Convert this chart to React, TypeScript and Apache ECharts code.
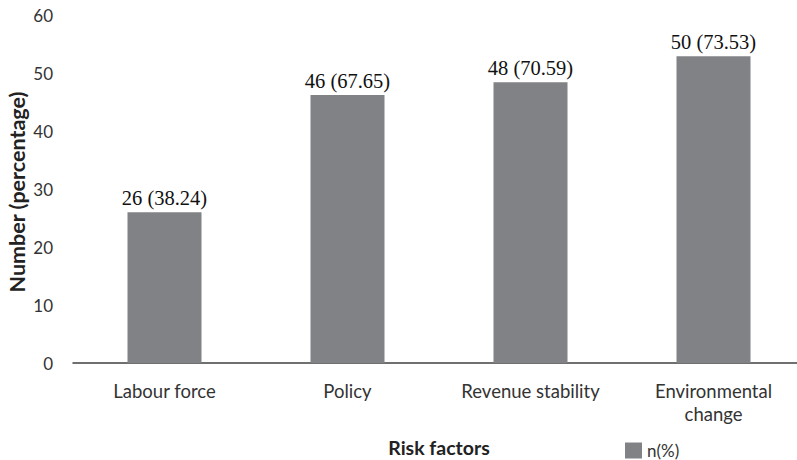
import React, { useEffect, useRef } from "react";
import * as echarts from "echarts";

const categories = ["Labour force", "Policy", "Revenue stability", "Environmental\nchange"];
const barValues = [26, 46.2, 48.4, 52.9];
const barLabels = ["26 (38.24)", "46 (67.65)", "48 (70.59)", "50 (73.53)"];
const yTicks = [0, 10, 20, 30, 40, 50, 60];
const seriesName = "n(%)";
const yTitle = "Number (percentage)";

export default function App() {
  const ref = useRef<HTMLDivElement>(null);
  useEffect(() => {
    const chart = echarts.init(ref.current!, null, { renderer: "svg" });
    chart.setOption({
      animation: false,
      backgroundColor: "#ffffff",
      grid: {
        left: 73,
        top: 15,
        width: 732,
        height: 348,
        containLabel: false,
        outerBoundsMode: "none",
      },
      legend: {
        data: [seriesName],
        left: 625,
        top: 442,
        padding: 0,
        icon: "rect",
        itemWidth: 17,
        itemHeight: 16,
        itemGap: 5,
        itemStyle: { borderWidth: 0 },
        textStyle: { fontFamily: "Lato", fontSize: 17, color: "#333333", padding: [0, 0, 0, 0] },
      },
      graphic: [
        {
          type: "text",
          x: 17,
          y: 192,
          rotation: Math.PI / 2,
          style: {
            text: yTitle,
            align: "center",
            verticalAlign: "middle",
            font: "bold 21.5px Lato",
            fill: "#222222",
          },
        },
      ],
      xAxis: {
        type: "category",
        data: categories,
        axisLine: { show: true, lineStyle: { color: "#404040", width: 1.5 } },
        axisTick: { show: false },
        axisLabel: {
          fontFamily: "Lato",
          fontSize: 18.5,
          color: "#333333",
          margin: 16,
          lineHeight: 23,
          interval: 0,
        },
        name: "Risk factors",
        nameLocation: "middle",
        nameGap: 74,
        nameTextStyle: {
          fontFamily: "Lato",
          fontSize: 19.5,
          fontWeight: "bold",
          color: "#222222",
        },
      },
      yAxis: {
        type: "value",
        min: yTicks[0],
        max: yTicks[yTicks.length - 1],
        interval: 10,
        splitLine: { show: false },
        axisLine: { show: false },
        axisTick: { show: false },
        axisLabel: {
          fontFamily: "Lato",
          fontSize: 17,
          color: "#333333",
          margin: 20,
        },
      },
      series: [
        {
          name: seriesName,
          type: "bar",
          data: barValues,
          barWidth: 74,
          itemStyle: { color: "#808285" },
          label: {
            show: true,
            position: "top",
            distance: 4,
            fontFamily: "Liberation Serif",
            fontSize: 20.5,
            color: "#111111",
            formatter: (p: any) => barLabels[p.dataIndex],
          },
        },
      ],
    });
    return () => chart.dispose();
  }, []);
  return (
    <div
      ref={ref}
      style={{ position: "absolute", left: 0, top: 0, width: 797, height: 460 }}
    />
  );
}
